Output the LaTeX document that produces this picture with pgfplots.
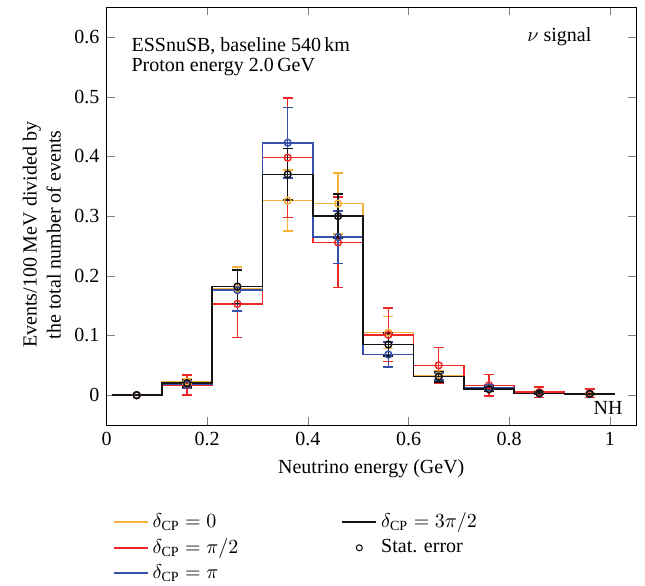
\documentclass[border=0pt]{standalone}
\usepackage{pgfplots}
\pgfplotsset{compat=1.18}
\usepackage{fontspec}
\setmainfont{Liberation Serif}
\definecolor{cOr}{RGB}{245,178,60}
\definecolor{cRe}{RGB}{238,40,40}
\definecolor{cBl}{RGB}{55,80,170}
\definecolor{cBk}{RGB}{20,20,20}
\begin{document}
\begin{tikzpicture}
\begin{axis}[
  scale only axis, width=264.75pt, height=208.85pt,
  xmin=0, xmax=1.052, ymin=-0.05, ymax=0.65,
  xtick={0,0.2,0.4,0.6,0.8,1},
  ytick={0,0.1,0.2,0.3,0.4,0.5,0.6},
  tick align=inside,
  major tick length=4pt,
  /pgf/number format/assume math mode=true,
  tick label style={font=\normalsize},
  label style={font=\normalsize},
  xlabel={Neutrino energy (GeV)},
  ylabel={Events/100 MeV divided by\\the total number of events},
  ylabel style={align=center, at={(ticklabel cs:0.455)}},
  legend columns=2,
  legend cell align=left,
  legend style={draw=none, fill=none, at={(0,-0.19)}, anchor=north west, font=\normalsize,
    /tikz/every even column/.append style={column sep=49.5pt}},
]
% histograms
\addplot[const plot, draw=cOr, line width=0.8pt, forget plot] coordinates {(0.01,0) (0.11,0.023) (0.21,0.178) (0.31,0.326) (0.41,0.321) (0.51,0.105) (0.61,0.033) (0.71,0.011) (0.81,0.004) (0.91,0.002) (1.01,0.002)};
\addplot[const plot, draw=cRe, line width=0.8pt, forget plot] coordinates {(0.01,0) (0.11,0.017) (0.21,0.153) (0.31,0.398) (0.41,0.256) (0.51,0.101) (0.61,0.050) (0.71,0.0165) (0.81,0.005) (0.91,0.003) (1.01,0.003)};
\addplot[const plot, draw=cBl, line width=0.8pt, forget plot] coordinates {(0.01,0) (0.11,0.018) (0.21,0.176) (0.31,0.423) (0.41,0.265) (0.51,0.068) (0.61,0.031) (0.71,0.013) (0.81,0.003) (0.91,0.002) (1.01,0.002)};
\addplot[const plot, draw=cBk, line width=0.8pt, forget plot] coordinates {(0.01,0) (0.11,0.020) (0.21,0.182) (0.31,0.370) (0.41,0.300) (0.51,0.085) (0.61,0.031) (0.71,0.010) (0.81,0.003) (0.91,0.002) (1.01,0.002)};
% error bars
\addplot[draw=cOr, only marks, mark=o, mark size=1.7pt, line width=0.75pt, forget plot,
  error bars/.cd, y dir=both, y explicit, error bar style={draw=cOr, line width=0.75pt}, error mark options={draw=cOr, mark size=2.5pt, line width=0.75pt, rotate=90}]
  coordinates {(0.06,0) +- (0,0) (0.16,0.023) +- (0,0.004) (0.26,0.178) +- (0,0.037) (0.36,0.326) +- (0,0.051) (0.46,0.321) +- (0,0.051) (0.56,0.105) +- (0,0.027) (0.66,0.033) +- (0,0.008) (0.76,0.011) +- (0,0.005) (0.86,0.004) +- (0,0.003) (0.96,0.002) +- (0,0.002)};
\addplot[draw=cRe, only marks, mark=o, mark size=1.7pt, line width=0.75pt, forget plot,
  error bars/.cd, y dir=both, y explicit, error bar style={draw=cRe, line width=0.75pt}, error mark options={draw=cRe, mark size=2.5pt, line width=0.75pt, rotate=90}]
  coordinates {(0.06,0) +- (0,0) (0.16,0.017) +- (0,0.017) (0.26,0.153) +- (0,0.056) (0.36,0.398) +- (0,0.100) (0.46,0.256) +- (0,0.076) (0.56,0.101) +- (0,0.045) (0.66,0.050) +- (0,0.030) (0.76,0.0165) +- (0,0.018) (0.86,0.005) +- (0,0.009) (0.96,0.003) +- (0,0.007)};
\addplot[draw=cBl, only marks, mark=o, mark size=1.7pt, line width=0.75pt, forget plot,
  error bars/.cd, y dir=both, y explicit, error bar style={draw=cBl, line width=0.75pt}, error mark options={draw=cBl, mark size=2.5pt, line width=0.75pt, rotate=90}]
  coordinates {(0.06,0) +- (0,0) (0.16,0.018) +- (0,0.006) (0.26,0.176) +- (0,0.035) (0.36,0.423) +- (0,0.059) (0.46,0.265) +- (0,0.044) (0.56,0.068) +- (0,0.021) (0.66,0.031) +- (0,0.006) (0.76,0.013) +- (0,0.004) (0.86,0.003) +- (0,0.002) (0.96,0.002) +- (0,0.001)};
\addplot[draw=cBk, only marks, mark=o, mark size=1.7pt, line width=0.75pt, forget plot,
  error bars/.cd, y dir=both, y explicit, error bar style={draw=cBk, line width=0.75pt}, error mark options={draw=cBk, mark size=2.5pt, line width=0.75pt, rotate=90}]
  coordinates {(0.06,0) +- (0,0) (0.16,0.020) +- (0,0.006) (0.26,0.182) +- (0,0.028) (0.36,0.370) +- (0,0.043) (0.46,0.300) +- (0,0.037) (0.56,0.085) +- (0,0.019) (0.66,0.031) +- (0,0.009) (0.76,0.010) +- (0,0.004) (0.86,0.003) +- (0,0.002) (0.96,0.002) +- (0,0.001)};
% legend
\addlegendimage{line legend, draw=cOr, line width=0.8pt}
\addlegendentry{$\delta_{\mathrm{CP}} = 0$}
\addlegendimage{line legend, draw=cBk, line width=0.8pt}
\addlegendentry{$\delta_{\mathrm{CP}} = 3\pi/2$}
\addlegendimage{line legend, draw=cRe, line width=0.8pt}
\addlegendentry{$\delta_{\mathrm{CP}} = \pi/2$}
\addlegendimage{only marks, mark=o, mark size=1.5pt, draw=black, line width=0.5pt}
\addlegendentry{Stat. error}
\addlegendimage{line legend, draw=cBl, line width=0.8pt}
\addlegendentry{$\delta_{\mathrm{CP}} = \pi$}
% texts
\node[anchor=west, inner sep=0pt] at (axis cs:0.049,0.585) {ESSnuSB, baseline 540\,km};
\node[anchor=west, inner sep=0pt] at (axis cs:0.049,0.55) {Proton energy 2.0\,GeV};
\node[anchor=east, inner sep=0pt] at (axis cs:0.964,0.60) {$\nu$ signal};
\node[anchor=east, inner sep=0pt] at (axis cs:1.026,-0.022) {NH};
\end{axis}
\pgfresetboundingbox
\path[use as bounding box] ([shift={(-53.25pt,-80.5pt)}]current axis.south west) rectangle ([shift={(4.5pt,3.65pt)}]current axis.north east);
\end{tikzpicture}
\end{document}
